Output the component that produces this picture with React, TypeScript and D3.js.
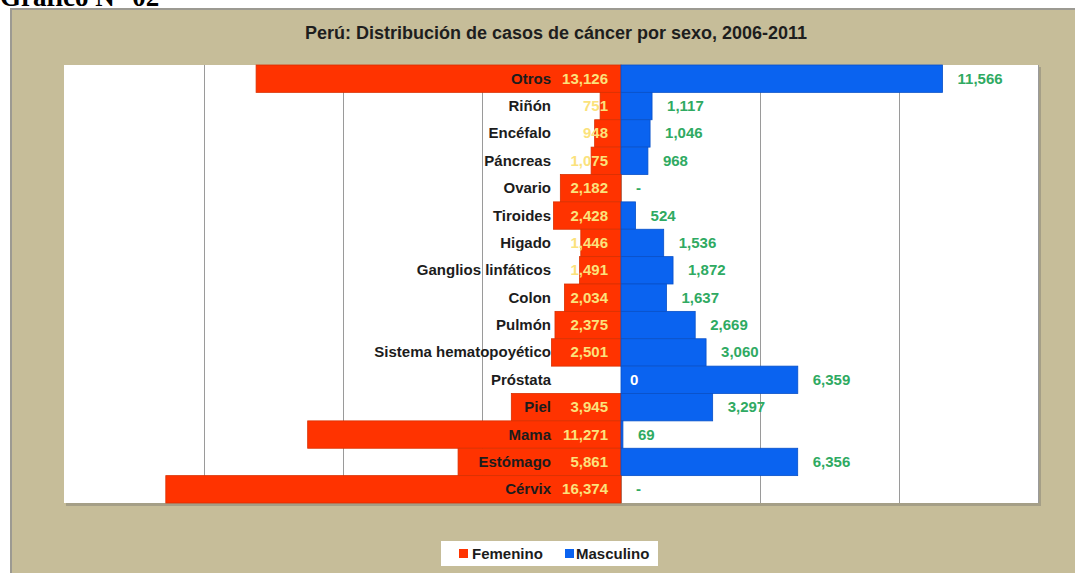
import React from "react";
import * as d3 from "d3";

// categories top -> bottom
const categories = [
  "Otros", "Riñón", "Encéfalo", "Páncreas", "Ovario", "Tiroides", "Higado",
  "Ganglios linfáticos", "Colon", "Pulmón", "Sistema hematopoyético", "Próstata",
  "Piel", "Mama", "Estómago", "Cérvix",
];
const femenino = [13126, 751, 948, 1075, 2182, 2428, 1446, 1491, 2034, 2375, 2501, 0, 3945, 11271, 5861, 16374];
const masculino = [11566, 1117, 1046, 968, 0, 524, 1536, 1872, 1637, 2669, 3060, 6359, 3297, 69, 6356, 0];
const gridTicks = [-15000, -10000, -5000, 0, 5000, 10000, 15000];

const W = 1075;
const H = 573;
const RED = "#ff3300";
const BLUE = "#0a63f0";
const GREEN = "#2faa62";
const YELLOW = "#fbe27c";
const BEIGE = "#c6bd99";
const FONT = "'Liberation Sans', Arial, sans-serif";

export default function App() {
  const x = d3.scaleLinear().domain([-20000, 15000]).range([65, 1038]);
  const y = d3.scaleBand<string>().domain(categories).range([65, 503]).paddingInner(0).paddingOuter(0);
  const fmt = d3.format(",");
  const x0 = x(0);
  const bh = y.bandwidth();

  return (
    <svg width={W} height={H} style={{ position: "absolute", left: 0, top: 0, background: "#fff" }}>
      {/* heading above the panel, cut off by the page */}
      <text x={0} y={6} fontFamily="'Liberation Serif', 'Times New Roman', serif" fontSize={27} fontWeight="bold" fill="#000">
        Gráfico N° 02
      </text>

      {/* panel */}
      <rect x={11} y={9} width={W} height={H} fill={BEIGE} stroke="#9c9a92" strokeWidth={2} />

      <text x={556} y={39} textAnchor="middle" fontFamily={FONT} fontSize={18} fontWeight="bold" fill="#1e1e1e">
        Perú: Distribución de casos de cáncer por sexo, 2006-2011
      </text>

      {/* plot area with shadow */}
      <rect x={66} y={67} width={x(15000) - 63} height={503 - 64} fill="#8f8b7c" opacity={0.6} />
      <rect x={64} y={65} width={x(15000) - 64} height={503 - 65} fill="#fff" />

      {gridTicks.map((t) => (
        <line key={t} x1={Math.round(x(t)) + 0.5} x2={Math.round(x(t)) + 0.5} y1={65} y2={503} stroke="#9a9a9a" strokeWidth={1} />
      ))}

      {/* bars */}
      {categories.map((c, i) => (
        <g key={c}>
          {femenino[i] > 0 && (
            <rect x={x(-femenino[i])} y={y(c)!} width={x0 - x(-femenino[i])} height={bh} fill={RED} stroke="#d93000" strokeWidth={0.8} />
          )}
          {masculino[i] > 0 && (
            <rect x={x0} y={y(c)!} width={x(masculino[i]) - x0} height={bh} fill={BLUE} stroke="#0850c8" strokeWidth={0.8} />
          )}
        </g>
      ))}

      {/* labels */}
      {categories.map((c, i) => {
        const cy = y(c)! + bh / 2 + 5;
        return (
          <g key={c} fontFamily={FONT} fontWeight="bold">
            <text x={551} y={cy} textAnchor="end" fontSize={15} fill="#1c1c1c">{c}</text>
            {femenino[i] > 0 ? (
              <text x={608} y={cy} textAnchor="end" fontSize={15} fill={YELLOW}>{fmt(femenino[i])}</text>
            ) : (
              <text x={x0 + 9} y={cy} fontSize={15} fill="#fff">0</text>
            )}
            <text x={masculino[i] > 0 ? x(masculino[i]) + 15 : x0 + 15} y={cy} fontSize={15} fill={GREEN}>
              {masculino[i] > 0 ? fmt(masculino[i]) : "-"}
            </text>
          </g>
        );
      })}

      {/* legend */}
      <rect x={441} y={541} width={217} height={25} fill="#fff" />
      <g fontFamily={FONT} fontWeight="bold" fontSize={15} fill="#1c1c1c">
        <rect x={459} y={549} width={9} height={9} fill={RED} />
        <text x={472} y={559}>Femenino</text>
        <rect x={565} y={549} width={9} height={9} fill={BLUE} />
        <text x={576} y={559}>Masculino</text>
      </g>
    </svg>
  );
}
